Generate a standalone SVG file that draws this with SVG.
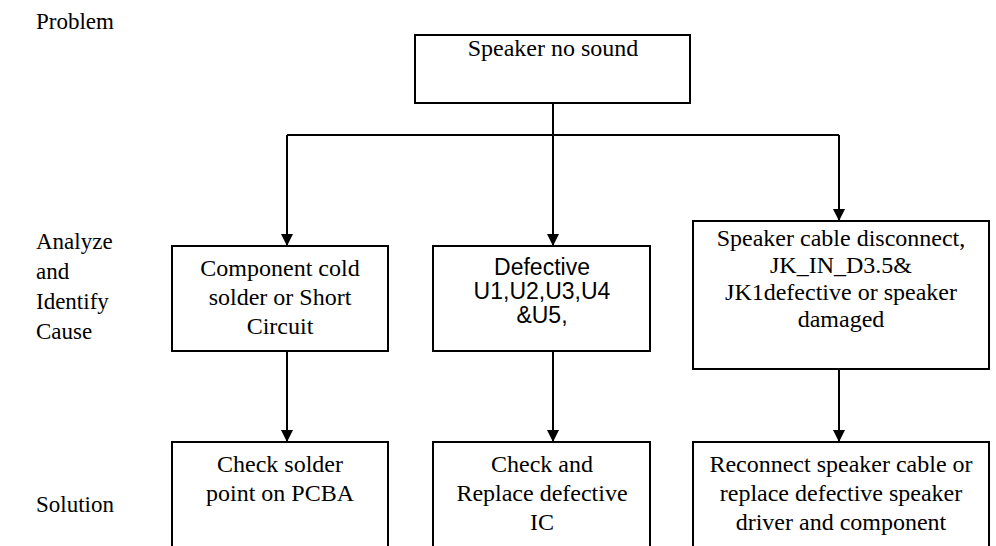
<svg xmlns="http://www.w3.org/2000/svg" width="996" height="546" viewBox="0 0 996 546">
<defs>
<marker id="ah" markerWidth="12" markerHeight="12" refX="12" refY="6" orient="auto" markerUnits="userSpaceOnUse">
<path d="M0,0 L12,6 L0,12 Z" fill="#000"/>
</marker>
<style>
.box{fill:#fff;stroke:#000;stroke-width:2}
.c{fill:none;stroke:#000;stroke-width:2}
</style>
</defs>
<rect width="996" height="546" fill="#fff"/>
<g id="labels" font-family="Liberation Serif, DejaVu Serif, serif" font-size="23" fill="#000">
<text x="36" y="29">Problem</text>
<text x="36" y="249">Analyze</text>
<text x="36" y="279">and</text>
<text x="36" y="309">Identify</text>
<text x="36" y="339">Cause</text>
<text x="36" y="512">Solution</text>
</g>
<g id="connectors">
<path class="c" d="M553,103 V246" marker-end="url(#ah)"/>
<path class="c" d="M287,135 H839"/>
<path class="c" d="M287,135 V246" marker-end="url(#ah)"/>
<path class="c" d="M839,135 V221" marker-end="url(#ah)"/>
<path class="c" d="M287,351 V442" marker-end="url(#ah)"/>
<path class="c" d="M553,351 V442" marker-end="url(#ah)"/>
<path class="c" d="M839,369 V442" marker-end="url(#ah)"/>
</g>
<g font-family="Liberation Serif, DejaVu Serif, serif" font-size="24" fill="#000" text-anchor="middle">
<g id="problem">
<rect class="box" x="415" y="35" width="275" height="68"/>
<text x="553" y="56">Speaker no sound</text>
</g>
<g id="cause1">
<rect class="box" x="172" y="246" width="216" height="105"/>
<text x="280" y="276">Component cold</text>
<text x="280" y="305">solder or Short</text>
<text x="280" y="334">Circuit</text>
</g>
<g id="cause2" font-family="Liberation Sans, DejaVu Sans, sans-serif" font-size="23">
<rect class="box" x="433" y="246" width="217" height="105"/>
<text x="542" y="275">Defective</text>
<text x="542" y="299">U1,U2,U3,U4</text>
<text x="542" y="323">&amp;U5,</text>
</g>
<g id="cause3">
<rect class="box" x="693" y="221" width="296" height="148"/>
<text x="841" y="246">Speaker cable disconnect,</text>
<text x="841" y="273">JK_IN_D3.5&amp;</text>
<text x="841" y="300">JK1defective or speaker</text>
<text x="841" y="327">damaged</text>
</g>
<g id="solution1">
<rect class="box" x="172" y="442" width="216" height="120"/>
<text x="280" y="472">Check solder</text>
<text x="280" y="501">point on PCBA</text>
</g>
<g id="solution2">
<rect class="box" x="433" y="442" width="217" height="120"/>
<text x="542" y="472">Check and</text>
<text x="542" y="501">Replace defective</text>
<text x="542" y="530">IC</text>
</g>
<g id="solution3">
<rect class="box" x="693" y="442" width="296" height="120"/>
<text x="841" y="472">Reconnect speaker cable or</text>
<text x="841" y="501">replace defective speaker</text>
<text x="841" y="530">driver and component</text>
</g>
</g>
</svg>
